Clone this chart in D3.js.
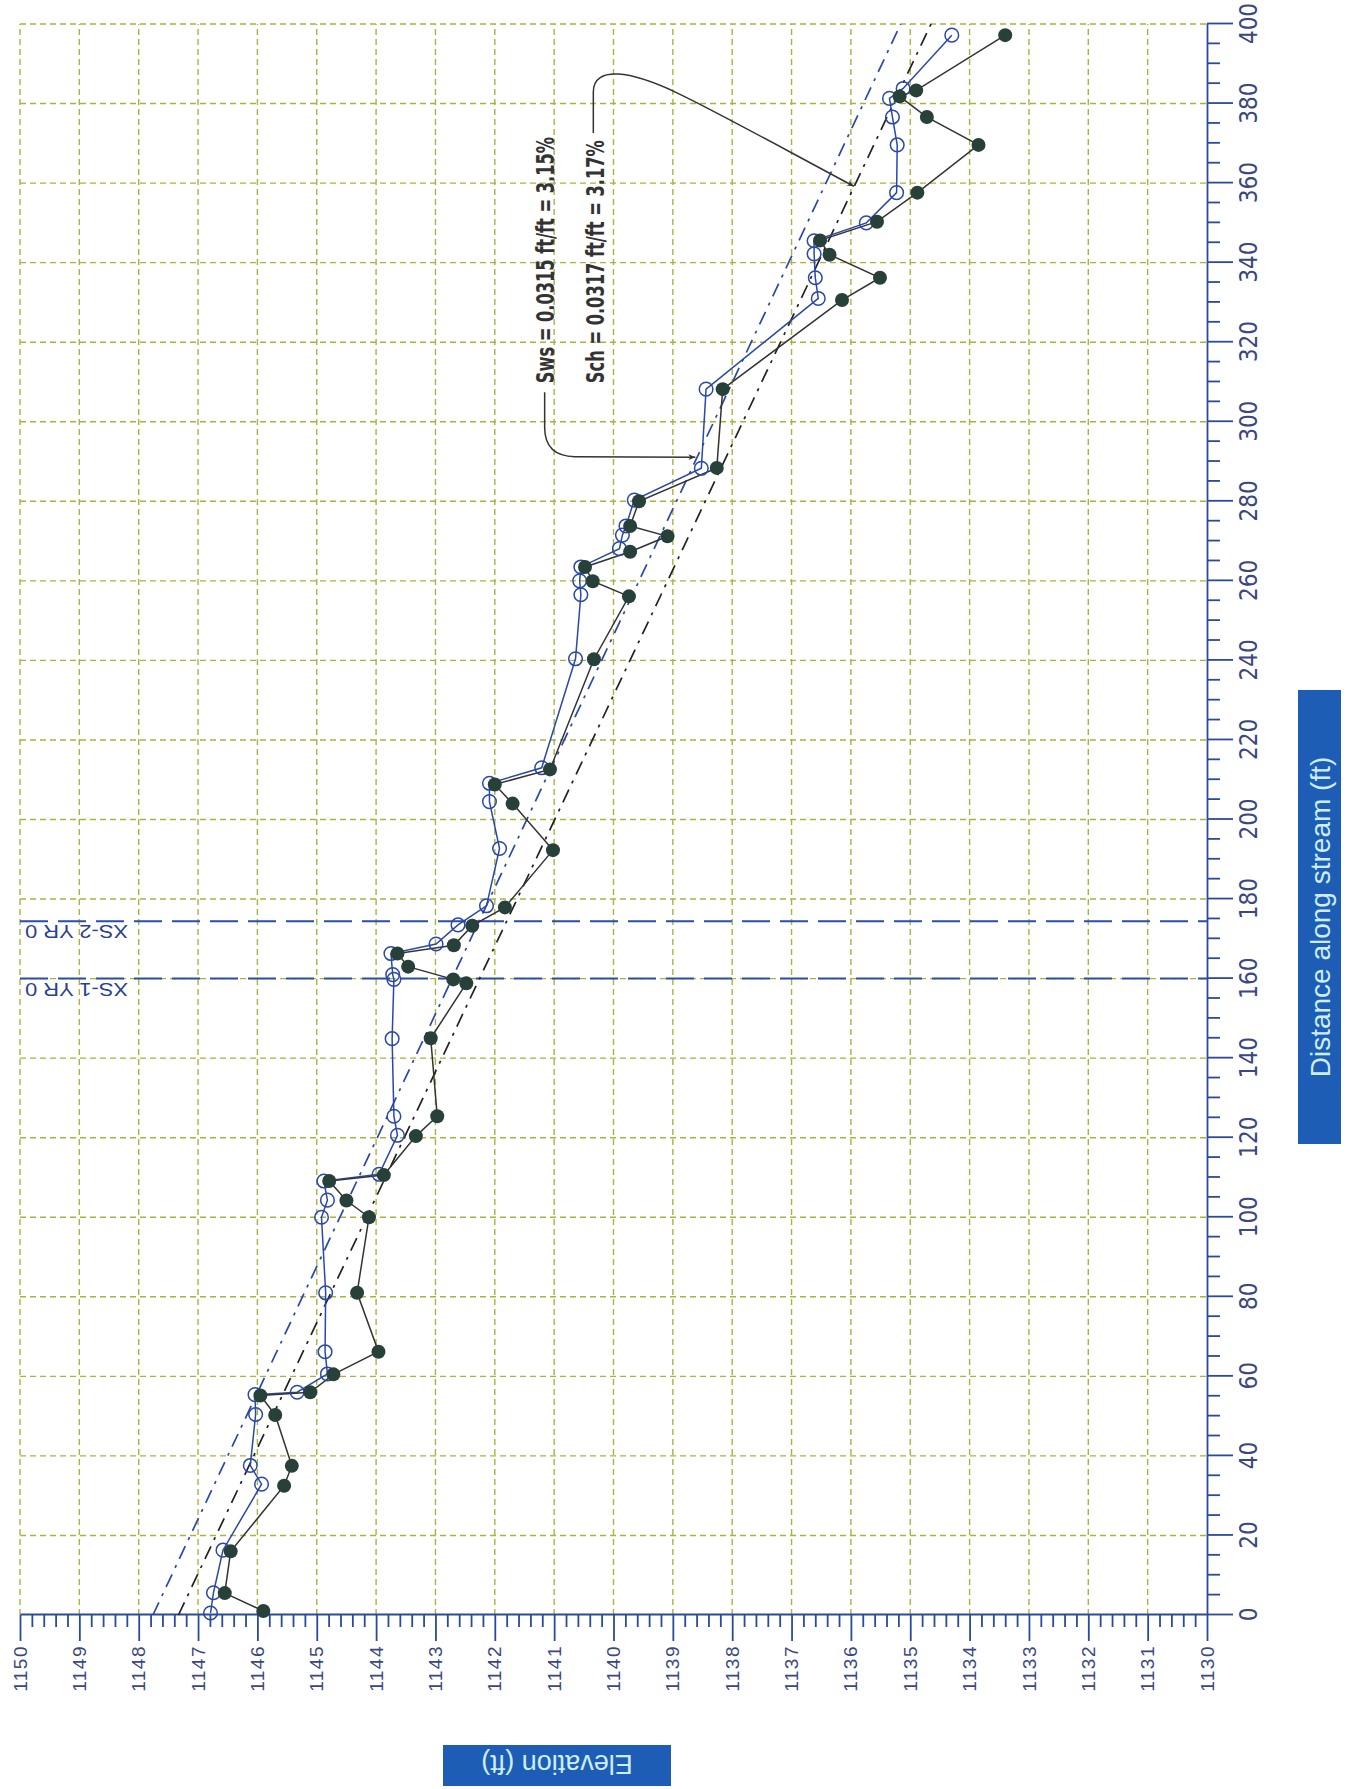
<!DOCTYPE html>
<html><head><meta charset="utf-8">
<script src="https://cdn.jsdelivr.net/npm/d3@7"></script>
<style>body{margin:0;background:#fff;} svg{display:block;}</style>
</head><body>
<svg id="chart" width="1354" height="1789"></svg>
<script>
// ---- DATA: [distance along stream (ft), elevation (ft)] ----
const bedProfile = [
  [1,1145.9],[5.5,1146.55],[16,1146.45],[32.5,1145.55],[37.5,1145.42],[50.3,1145.70],
  [55.2,1145.95],[56,1145.11],[60.5,1144.72],[66.2,1143.96],[81,1144.32],[100,1144.12],
  [104.2,1144.50],[109.1,1144.79],[110.6,1143.87],[120.4,1143.33],[125.4,1142.97],
  [145,1143.08],[158.8,1142.48],[159.8,1142.70],[163,1143.46],[166.3,1143.64],
  [168.4,1142.69],[173.3,1142.38],[177.9,1141.83],[192.3,1141.02],[204,1141.70],
  [208.8,1142.00],[212.6,1141.07],[240.3,1140.33],[256.1,1139.74],[259.9,1140.35],
  [263.5,1140.48],[267.3,1139.72],[271.2,1139.09],[273.8,1139.72],[280,1139.57],
  [288.4,1138.26],[308.2,1138.16],[330.6,1136.15],[336.2,1135.51],[342,1136.36],
  [345.6,1136.52],[350.3,1135.56],[357.6,1134.88],[369.6,1133.85],[376.6,1134.72],
  [381.8,1135.18],[383.3,1134.90],[397.2,1133.40]
];
const wsProfile = [
  [0.5,1146.79],[5.6,1146.74],[16.3,1146.58],[32.9,1145.93],[37.6,1146.12],[50.4,1146.03],
  [55.4,1146.04],[56,1145.33],[60.6,1144.82],[66.2,1144.86],[81,1144.85],[100,1144.92],
  [104.3,1144.82],[109.1,1144.88],[110.8,1143.95],[120.6,1143.64],[125.4,1143.70],
  [144.9,1143.73],[159.8,1143.70],[161,1143.72],[166.3,1143.75],[168.7,1142.99],
  [173.5,1142.62],[178.3,1142.14],[192.7,1141.92],[204.5,1142.09],[209.1,1142.09],
  [213,1141.21],[240.4,1140.64],[256.5,1140.55],[260,1140.57],[263.5,1140.55],
  [268.1,1139.90],[271.5,1139.85],[273.8,1139.79],[280.3,1139.65],[288.3,1138.52],
  [308.2,1138.44],[331,1136.55],[336.2,1136.60],[342.2,1136.62],[345.5,1136.62],
  [350,1135.74],[357.6,1135.23],[369.6,1135.22],[376.6,1135.30],[381.3,1135.35],
  [383.8,1135.12],[397.2,1134.30]
];
const wsTrend = [[0,1147.76],[400,1135.16]];
const chTrend = [[0,1147.33],[400,1134.65]];
const xsNames = ["XS-1 YR 0","XS-2 YR 0"];
const xsDist = [160,174.4];
const distTicks = d3.range(0,401,20);
const distMinor = d3.range(0,401,5).filter(d=>d%20!==0);
const elevTicks = d3.range(1130,1151,1);
const elevMinor = d3.range(11300,11501,2).map(v=>v/10).filter(v=>Math.abs(v-Math.round(v))>1e-6);
const swsText = "Sws = 0.0315 ft/ft = 3.15%";
const schText = "Sch = 0.0317 ft/ft = 3.17%";

// ---- LAYOUT (chart is drawn landscape then rotated -90deg) ----
const W=1354, H=1789;
const svg=d3.select("#chart");
const g=svg.append("g").attr("transform",`translate(0,${H}) rotate(-90)`);
const x=d3.scaleLinear().domain([0,400]).range([174,1765]);
const y=d3.scaleLinear().domain([1150,1130]).range([20,1207]);

const gridCol="#a8b43c", axisCol="#2b4a9b", wsCol="#2a48a8", bedCol="#27403a";

const defs=svg.append("defs");
defs.append("marker").attr("id","arr").attr("viewBox","0 0 10 10").attr("refX",10).attr("refY",5)
  .attr("markerWidth",11).attr("markerHeight",7).attr("markerUnits","userSpaceOnUse").attr("orient","auto")
  .append("path").attr("d","M0,1 L10,5 L0,9 L3,5 Z").attr("fill","#333");

// grid
const grid=g.append("g");
grid.selectAll(".gx").data(distTicks.filter(d=>d>0)).join("line")
  .attr("x1",d=>x(d)).attr("x2",d=>x(d)).attr("y1",y(1150)).attr("y2",y(1130))
  .attr("stroke",gridCol).attr("stroke-width",1.4).attr("stroke-dasharray","6,4");
grid.selectAll(".gy").data(elevTicks.filter(e=>e>1130)).join("line")
  .attr("y1",d=>y(d)).attr("y2",d=>y(d)).attr("x1",x(0)).attr("x2",x(400))
  .attr("stroke",gridCol).attr("stroke-width",1.4).attr("stroke-dasharray","6,4");

// axes
function styleAxis(sel){
  sel.selectAll("path,line").attr("stroke",axisCol).attr("stroke-width",1.8);
}
const distAxis=g.append("g").attr("transform",`translate(0,${y(1130)})`)
  .call(d3.axisBottom(x).tickValues(distTicks).tickSize(26).tickSizeOuter(0).tickPadding(7).tickFormat(d3.format("d")));
styleAxis(distAxis);
distAxis.selectAll("text").attr("fill","#3a4780").attr("font-family","'Liberation Sans Narrow','Arial Narrow','DejaVu Sans Condensed',sans-serif")
  .attr("font-size",24);
const distMinorAxis=g.append("g").attr("transform",`translate(0,${y(1130)})`)
  .call(d3.axisBottom(x).tickValues(distMinor).tickSize(13).tickSizeOuter(0).tickFormat(""));
styleAxis(distMinorAxis); distMinorAxis.select(".domain").remove();

const elevAxis=g.append("g").attr("transform",`translate(${x(0)},0)`)
  .call(d3.axisLeft(y).tickValues(elevTicks).tickSize(26).tickSizeOuter(0).tickPadding(4).tickFormat(d3.format("d")));
styleAxis(elevAxis);
elevAxis.selectAll("text").attr("fill","#3a4780").attr("font-family","'Liberation Sans',Arial,sans-serif")
  .attr("font-size",19).attr("letter-spacing",1.5);
const elevMinorAxis=g.append("g").attr("transform",`translate(${x(0)},0)`)
  .call(d3.axisLeft(y).tickValues(elevMinor).tickSize(12).tickSizeOuter(0).tickFormat(""));
styleAxis(elevMinorAxis); elevMinorAxis.select(".domain").remove();

// cross-section lines
xsDist.forEach((d,i)=>{
  g.append("line").attr("x1",x(d)).attr("x2",x(d)).attr("y1",y(1150)).attr("y2",y(1130))
    .attr("stroke","#2b4ea8").attr("stroke-width",2).attr("stroke-dasharray","28,10");
  g.append("text").attr("transform",`translate(${x(d)-4},${y(1150)+108}) rotate(-90)`)
    .attr("font-family","'Liberation Sans',Arial,sans-serif").attr("font-size",19)
    .attr("fill","#2a3f8f").attr("textLength",103).attr("lengthAdjust","spacingAndGlyphs")
    .text(xsNames[i]);
});

// trend lines
const line=d3.line().x(d=>x(d[0])).y(d=>y(d[1]));
g.append("path").datum(wsTrend).attr("d",line).attr("fill","none").attr("stroke",wsCol)
  .attr("stroke-width",1.7).attr("stroke-dasharray","14,7,3,7");
g.append("path").datum(chTrend).attr("d",line).attr("fill","none").attr("stroke","#222")
  .attr("stroke-width",1.7).attr("stroke-dasharray","14,7,3,7");

// profiles
g.append("path").datum(wsProfile).attr("d",line).attr("fill","none").attr("stroke",wsCol).attr("stroke-width",1.5);
g.append("path").datum(bedProfile).attr("d",line).attr("fill","none").attr("stroke","#333").attr("stroke-width",1.5);
g.selectAll(".ws").data(wsProfile).join("circle").attr("cx",d=>x(d[0])).attr("cy",d=>y(d[1])).attr("r",6.8)
  .attr("fill","none").attr("stroke",wsCol).attr("stroke-width",1.5);
g.selectAll(".bed").data(bedProfile).join("circle").attr("cx",d=>x(d[0])).attr("cy",d=>y(d[1])).attr("r",7)
  .attr("fill",bedCol);

// annotations
function addLabel(txt,d0,d1,elev){
  g.append("text").attr("x",x(d0)).attr("y",y(elev)).attr("font-family","'Liberation Sans Narrow','Arial Narrow','DejaVu Sans Condensed',sans-serif")
    .attr("font-weight","bold").attr("font-size",25).attr("fill","#333")
    .attr("textLength",x(d1)-x(d0)).attr("lengthAdjust","spacingAndGlyphs").text(txt);
}
addLabel(swsText,309.7,371.6,1141.0);
addLabel(schText,309.7,370.8,1140.16);
const p1=d3.path();
p1.moveTo(x(307.4),y(1141.16)); p1.lineTo(x(298.6),y(1141.16));
p1.quadraticCurveTo(x(291.3),y(1141.16),x(291.2),y(1140.65)); p1.lineTo(x(291.1),y(1138.62));
g.append("path").attr("d",p1.toString()).attr("fill","none").attr("stroke","#333").attr("stroke-width",1.5).attr("marker-end","url(#arr)");
const p2=d3.path();
p2.moveTo(x(372.6),y(1140.34)); p2.lineTo(x(382.9),y(1140.34));
p2.bezierCurveTo(x(386.4),y(1140.34),x(387.6),y(1140.17),x(387.4),y(1139.92));
p2.bezierCurveTo(x(386.9),y(1139.33),x(380.8),y(1138.65),x(359.2),y(1135.95));
g.append("path").attr("d",p2.toString()).attr("fill","none").attr("stroke","#333").attr("stroke-width",1.5).attr("marker-end","url(#arr)");

// axis title boxes
g.append("rect").attr("x",645).attr("y",1298).attr("width",454).attr("height",43).attr("fill","#1e5db6");
g.append("text").attr("x",872).attr("y",1320).attr("dy","0.36em").attr("text-anchor","middle")
  .attr("font-family","'Liberation Sans',Arial,sans-serif").attr("font-size",28).attr("fill","#cdeeff")
  .text("Distance along stream (ft)");
g.append("rect").attr("x",3).attr("y",443).attr("width",41).attr("height",228).attr("fill","#1e5db6");
g.append("text").attr("transform",`translate(24,557) rotate(-90)`).attr("dy","0.36em").attr("text-anchor","middle")
  .attr("font-family","'Liberation Sans',Arial,sans-serif").attr("font-size",27).attr("fill","#cdeeff")
  .text("Elevation (ft)");
</script>
</body></html>
